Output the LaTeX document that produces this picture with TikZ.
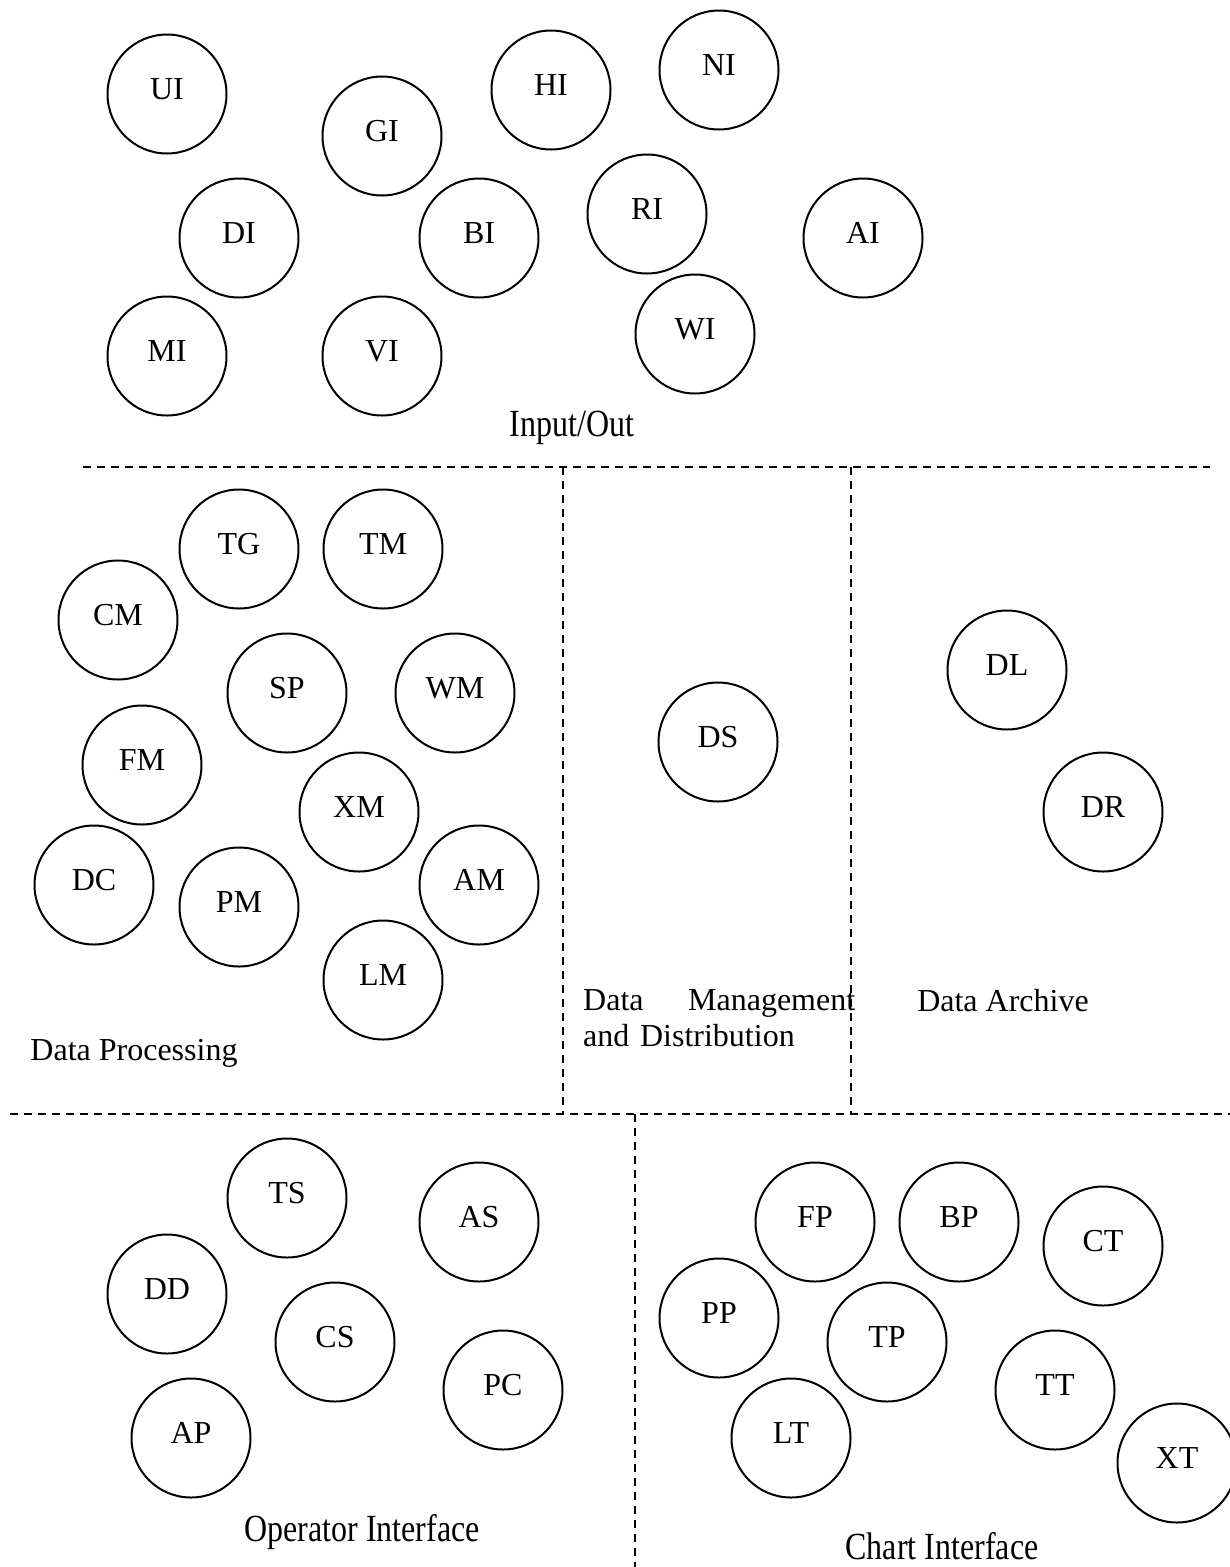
\documentclass[tikz,border=0pt]{standalone}
\usepackage{fontspec}
\setmainfont{Liberation Serif}
\usepackage{graphicx}

\newcommand{\tallcaps}[1]{\scalebox{1}[1.2]{#1}}

\begin{document}
\begin{tikzpicture}[x=1pt,y=-1pt,
  every node/.style={font=\fontsize{32}{36}\selectfont},
  mod/.style={draw,circle,line width=2pt,minimum size=119pt,inner sep=0pt,
    text height=22pt,text depth=11pt},
  zone/.style={anchor=base,inner sep=0pt},
  sep/.style={line width=1.8pt,dash pattern=on 8pt off 6pt} ]
  \useasboundingbox (0,0) rectangle (1230,1567);

  % Input/Out
  \node[mod] (ui) at (167,94) {UI};
  \node[mod] (gi) at (382,136) {GI};
  \node[mod] (hi) at (551,90) {HI};
  \node[mod] (ni) at (719,70) {NI};
  \node[mod] (di) at (239,238) {DI};
  \node[mod] (bi) at (479,238) {BI};
  \node[mod] (ri) at (647,214) {RI};
  \node[mod] (ai) at (863,238) {AI};
  \node[mod] (mi) at (167,356) {MI};
  \node[mod] (vi) at (382,356) {VI};
  \node[mod] (wi) at (695,334) {WI};
  \node[zone] (io) at (572,436) {\tallcaps{Input/Out}};

  % Data Processing
  \node[mod] (tg) at (239,549) {TG};
  \node[mod] (tm) at (383,549) {TM};
  \node[mod] (cm) at (118,620) {CM};
  \node[mod] (sp) at (287,693) {SP};
  \node[mod] (wm) at (455,693) {WM};
  \node[mod] (fm) at (142,765) {FM};
  \node[mod] (xm) at (359,812) {XM};
  \node[mod] (dc) at (94,885) {DC};
  \node[mod] (pm) at (239,907) {PM};
  \node[mod] (am) at (479,885) {AM};
  \node[mod] (lm) at (383,980) {LM};
  \node[zone] (dp) at (134,1060) {Data Processing};

  % Data Management and Distribution
  \node[mod] (ds) at (718,742) {DS};
  \node[anchor=north west,inner sep=0pt,text width=272pt,align=left] (dmd) at (583,989)
    {Data\hfill Management\\and Distribution};

  % Data Archive
  \node[mod] (dl) at (1007,670) {DL};
  \node[mod] (dr) at (1103,812) {DR};
  \node[zone] (da) at (1003,1011) {Data Archive};

  % Operator Interface
  \node[mod] (ts) at (287,1198) {TS};
  \node[mod] (as) at (479,1222) {AS};
  \node[mod] (dd) at (167,1294) {DD};
  \node[mod] (cs) at (335,1342) {CS};
  \node[mod] (pc) at (503,1390) {PC};
  \node[mod] (ap) at (191,1438) {AP};
  \node[zone] (oi) at (362,1541) {\tallcaps{Operator Interface}};

  % Chart Interface
  \node[mod] (fp) at (815,1222) {FP};
  \node[mod] (bp) at (959,1222) {BP};
  \node[mod] (ct) at (1103,1246) {CT};
  \node[mod] (pp) at (719,1318) {PP};
  \node[mod] (tp) at (887,1342) {TP};
  \node[mod] (tt) at (1055,1390) {TT};
  \node[mod] (lt) at (791,1438) {LT};
  \node[mod] (xt) at (1177,1463) {XT};
  \node[zone] (ci) at (942,1559) {\tallcaps{Chart Interface}};

  % dividers
  \draw[sep] (83,467) -- (1210,467);
  \draw[sep] (563,467) -- (563,1114);
  \draw[sep] (851,467) -- (851,1114);
  \draw[sep] (10,1114) -- (1230,1114);
  \draw[sep] (635,1114) -- (635,1567);
\end{tikzpicture}
\end{document}
